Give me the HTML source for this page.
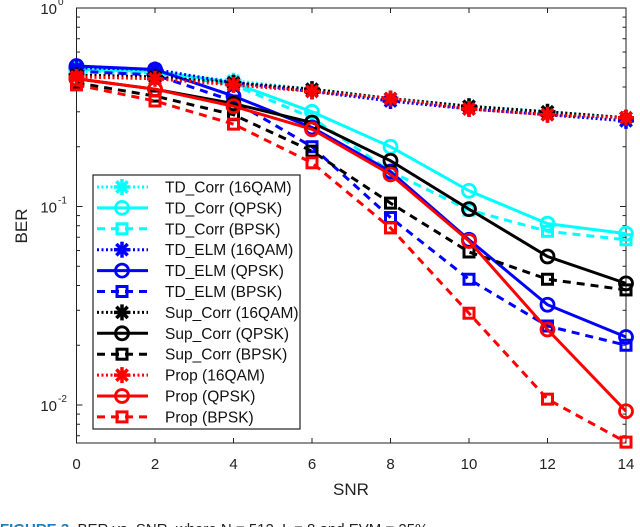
<!DOCTYPE html>
<html><head><meta charset="utf-8"><style>
html,body{margin:0;padding:0;background:#fff;width:640px;height:527px;overflow:hidden}
svg{display:block;font-family:"Liberation Sans",sans-serif}
</style></head><body>
<svg id="chart" width="640" height="527"></svg>
<script>
const snr=[0,2,4,6,8,10,12,14];
const tdCorr16=[0.48,0.47,0.43,0.39,0.35,0.32,0.30,0.28];
const tdCorrQ=[0.49,0.48,0.42,0.30,0.20,0.12,0.082,0.073];
const tdCorrB=[0.48,0.47,0.41,0.28,0.15,0.096,0.075,0.068];
const tdElm16=[0.50,0.49,0.42,0.38,0.34,0.31,0.29,0.27];
const tdElmQ=[0.51,0.49,0.36,0.25,0.15,0.068,0.032,0.022];
const tdElmB=[0.48,0.46,0.34,0.20,0.088,0.043,0.025,0.020];
const supCorr16=[0.46,0.45,0.42,0.39,0.35,0.32,0.30,0.28];
const supCorrQ=[0.44,0.39,0.33,0.265,0.17,0.097,0.056,0.041];
const supCorrB=[0.42,0.36,0.29,0.19,0.104,0.059,0.043,0.038];
const prop16=[0.45,0.44,0.41,0.38,0.35,0.31,0.29,0.28];
const propQ=[0.44,0.39,0.32,0.245,0.145,0.067,0.024,0.0093];
const propB=[0.41,0.34,0.26,0.166,0.078,0.029,0.0107,0.0065];
const xTicks=[0,2,4,6,8,10,12,14];
const yDecades=[0,-1,-2];
const seriesNames=["TD_Corr (16QAM)","TD_Corr (QPSK)","TD_Corr (BPSK)","TD_ELM (16QAM)","TD_ELM (QPSK)","TD_ELM (BPSK)","Sup_Corr (16QAM)","Sup_Corr (QPSK)","Sup_Corr (BPSK)","Prop (16QAM)","Prop (QPSK)","Prop (BPSK)"];
const seriesData=[tdCorr16,tdCorrQ,tdCorrB,tdElm16,tdElmQ,tdElmB,supCorr16,supCorrQ,supCorrB,prop16,propQ,propB];

const L=76.5,R=626,T=8,B=443;
const x=v=>L+(v-0)/(14-0)*(R-L);
const y=v=>T+(-Math.log10(v))*198.5;
const NS="http://www.w3.org/2000/svg";
const svg=document.getElementById('chart');
function mk(tag,attrs,parent){const e=document.createElementNS(NS,tag);for(const k in attrs)e.setAttribute(k,attrs[k]);(parent||svg).appendChild(e);return e;}
const colors=["#00ffff","#0000ff","#000000","#ff0000"];
const styles=["16","Q","B"];
function dash(s){return s==="16"?"2,2.5":s==="B"?"8,6":"none";}
function marker(g,s,cx,cy,c){
  if(s==="16"){
    for(let a=0;a<4;a++){const ang=a*Math.PI/4;mk('line',{x1:cx-8*Math.cos(ang),y1:cy-8*Math.sin(ang),x2:cx+8*Math.cos(ang),y2:cy+8*Math.sin(ang),stroke:c,'stroke-width':3.5},g);}
  }else if(s==="Q"){
    mk('circle',{cx:cx,cy:cy,r:6.5,fill:'none',stroke:c,'stroke-width':2.8},g);
  }else{
    mk('rect',{x:cx-5,y:cy-5,width:10,height:10,fill:'none',stroke:c,'stroke-width':3},g);
  }
}
const axes=mk('rect',{x:L,y:T,width:R-L,height:B-T,fill:'#fff',stroke:'#222','stroke-width':1});


xTicks.forEach(t=>{
  mk('line',{x1:x(t),y1:B,x2:x(t),y2:B-5,stroke:'#222'});
  mk('line',{x1:x(t),y1:T,x2:x(t),y2:T+5,stroke:'#222'});
  const tx=mk('text',{x:x(t),y:469,'font-size':15,'text-anchor':'middle',fill:'#222'});
  tx.textContent=t;
  
  
});
for(let d=0;d>=-3;d--){
  for(let m=1;m<10;m++){
    const val=m*Math.pow(10,d-1);
    if(val>1||y(val)>B)continue;
    const len=(m===1)?6:3.5;
    mk('line',{x1:L,y1:y(val),x2:L+len,y2:y(val),stroke:'#222'});
    mk('line',{x1:R,y1:y(val),x2:R-len,y2:y(val),stroke:'#222'});
  }
}
yDecades.forEach(d=>{
  const tx=mk('text',{x:57,y:y(Math.pow(10,d))+6,'font-size':15,'text-anchor':'end',fill:'#222'});
  tx.textContent='10';
  
  
  const sp=mk('text',{x:58,y:y(Math.pow(10,d))-3,'font-size':10,fill:'#222'});
  sp.textContent=String(d);
});
seriesData.forEach((data,i)=>{
  const c=colors[Math.floor(i/3)],s=styles[i%3];
  const g=mk('g',{});
  
  
  const pts=data.map((v,j)=>x(snr[j])+','+y(v)).join(' ');
  mk('polyline',{points:pts,fill:'none',stroke:c,'stroke-width':3,'stroke-dasharray':dash(s)},g);
  data.forEach((v,j)=>marker(g,s,x(snr[j]),y(v),c));
});
const lg=mk('g',{});


mk('rect',{x:93,y:175,width:207,height:254,fill:'#fff',stroke:'#222','stroke-width':1.2},lg);
seriesNames.forEach((n,i)=>{
  const c=colors[Math.floor(i/3)],s=styles[i%3];
  const yy=187+i*20.9;
  const e=mk('g',{},lg);
  
  
  mk('line',{x1:97,y1:yy,x2:148,y2:yy,stroke:c,'stroke-width':3,'stroke-dasharray':dash(s)},e);
  marker(e,s,122,yy,c);
  const t=mk('text',{x:165,y:yy+5.5,'font-size':15.5,fill:'#111'},e);
  t.textContent=n;
});
const xt=mk('text',{x:351,y:495,'font-size':17,'text-anchor':'middle',fill:'#222'});
xt.textContent='SNR';


const yt=mk('text',{x:0,y:0,'font-size':17,'text-anchor':'middle',fill:'#222',transform:'translate(27,226) rotate(-90)'});
yt.textContent='BER';


const cap=mk('text',{x:0,y:534,'font-size':15,fill:'#222'});


const f=mk('tspan',{fill:'#1a7fc1','font-weight':'bold'},cap);f.textContent='FIGURE 3. ';
const r=mk('tspan',{},cap);r.textContent=' BER vs. SNR, where N = 512, L = 8 and EVM = 25%';
</script>
</body></html>
